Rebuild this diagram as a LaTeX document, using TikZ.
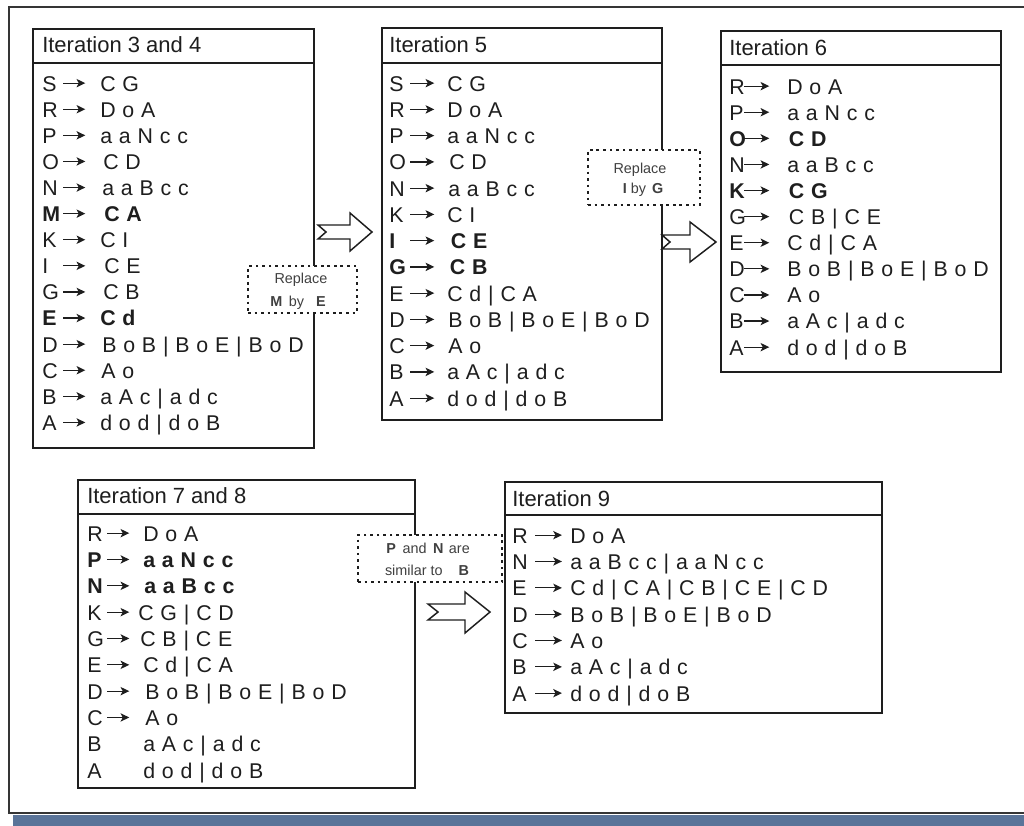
\documentclass[tikz,border=0pt]{standalone}
\usepackage{fontspec}
\setmainfont{Liberation Sans}
\newfontfamily\rowfont[WordSpace=1.15]{Liberation Sans}
\usetikzlibrary{fit,arrows.meta}
\definecolor{bandblue}{RGB}{90,116,153}
\definecolor{ink}{RGB}{30,30,30}
\def\LHSw{15.75pt}
\def\ARw{27.75pt}
\newsavebox\arrBa
\newsavebox\arrBb
\newsavebox\arrBc
\newsavebox\arrBd
\newcommand\mkarrow[2]{\sbox#1{\begin{pgfpicture}%
  \pgfpathrectangle{\pgfpointorigin}{\pgfpoint{#2}{1pt}}%
  \pgfusepath{use as bounding box}%
  \pgfsetbaseline{0pt}%
  \pgfsetlinewidth{0.95pt}%
  \pgfsetstrokecolor{ink}\pgfsetfillcolor{ink}%
  \pgfsetarrowsend{Stealth[length=6.5pt,width=6.2pt,inset=1.6pt]}%
  \pgfpathmoveto{\pgfpoint{0pt}{5.9pt}}%
  \pgfpathlineto{\pgfpoint{#2}{5.9pt}}%
  \pgfusepath{stroke}%
  \end{pgfpicture}}}
\def\curarr{\usebox\arrBa}
\newcommand\prow[3][0pt]{\makebox[\LHSw][l]{#2}\makebox[\ARw][l]{\curarr}\hspace*{#1}#3}
\newcommand\pnoarrow[2]{\makebox[\LHSw][l]{#1}\makebox[\ARw][l]{}#2}
\tikzset{
  gbox/.style={draw=ink, line width=1.4pt, fill=white, inner sep=0pt},
  divider/.style={draw=ink, line width=1.4pt},
  ttl/.style={anchor=base west, inner sep=0pt, text=ink, font=\fontsize{16.5}{19}\selectfont},
  prod/.style={anchor=base west, inner sep=0pt, text=ink, font=\rowfont\fontsize{16}{19}\selectfont},
  notebox/.style={draw=ink, line width=2pt, dash pattern=on 2pt off 2.9pt, fill=white, inner sep=0pt},
  notetxt/.style={anchor=base, inner sep=0pt, text=ink!85, font=\fontsize{10.8}{13}\selectfont},
  hollow/.style={draw=ink, line width=1.1pt, fill=white, line join=miter},
}
\begin{document}
\mkarrow{\arrBa}{16.5pt}%
\mkarrow{\arrBb}{18pt}%
\mkarrow{\arrBc}{18.75pt}%
\mkarrow{\arrBd}{20pt}%
\begin{tikzpicture}[x=0.75pt,y=-0.75pt]
\useasboundingbox (0,0) rectangle (1024,825);
\clip (0,0) rectangle (1024,825);
\fill[white] (0,0) rectangle (1024,825);
% outer frame and band
\fill[bandblue] (13,815) rectangle (1040,830);
\draw[line width=1.5pt, draw=ink!90] (9,7) rectangle (1040,813);

% ---------- Box 1 ----------
\node[gbox, fit={(33,29) (314,448)}] (b1) {};
\draw[divider] (33,63) -- (314,63);
\node[ttl] (b1t) at (42,52) {Iteration 3 and 4};
\def\LHSw{15.75pt}\def\ARw{27.75pt}\def\curarr{\usebox\arrBa}
\node[prod] (b1r1) at (42,91) {\prow{S}{C G}};
\node[prod] (b1r2) at (42,117.1) {\prow{R}{D o A}};
\node[prod] (b1r3) at (42,143.2) {\prow{P}{a a N c c}};
\node[prod] (b1r4) at (42,169.3) {\prow[2.25pt]{O}{C D}};
\node[prod] (b1r5) at (42,195.4) {\prow[1.5pt]{N}{a a B c c}};
\node[prod] (b1r6) at (42,221.5) {\prow[3pt]{\bfseries M}{\bfseries C A}};
\node[prod] (b1r7) at (42,247.6) {\prow{K}{C I}};
\node[prod] (b1r8) at (42,273.7) {\prow[3pt]{I}{C E}};
\node[prod] (b1r9) at (42,299.8) {\prow[2.25pt]{G}{C B}};
\node[prod] (b1r10) at (42,325.9) {\prow{\bfseries E}{\bfseries C d}};
\node[prod] (b1r11) at (42,352) {\prow[1.5pt]{D}{B o B | B o E | B o D}};
\node[prod] (b1r12) at (42,378.1) {\prow[0.75pt]{C}{A o}};
\node[prod] (b1r13) at (42,404.2) {\prow{B}{a A c | a d c}};
\node[prod] (b1r14) at (42,430.3) {\prow{A}{d o d | d o B}};

% ---------- Box 2 ----------
\node[gbox, fit={(382,28) (662,420)}] (b2) {};
\draw[divider] (382,63) -- (662,63);
\node[ttl] (b2t) at (389,52) {Iteration 5};
\def\curarr{\usebox\arrBb}
\node[prod] (b2r1) at (389,91) {\prow{S}{C G}};
\node[prod] (b2r2) at (389,117.25) {\prow{R}{D o A}};
\node[prod] (b2r3) at (389,143.5) {\prow{P}{a a N c c}};
\node[prod] (b2r4) at (389,169.75) {\prow[1.5pt]{O}{C D}};
\node[prod] (b2r5) at (389,196) {\prow[0.75pt]{N}{a a B c c}};
\node[prod] (b2r6) at (389,222.25) {\prow{K}{C I}};
\node[prod] (b2r7) at (389,248.5) {\prow[2.75pt]{\bfseries I}{\bfseries C E}};
\node[prod] (b2r8) at (389,274.75) {\prow[2pt]{\bfseries G}{\bfseries C B}};
\node[prod] (b2r9) at (389,301) {\prow{E}{C d | C A}};
\node[prod] (b2r10) at (389,327.25) {\prow[0.75pt]{D}{B o B | B o E | B o D}};
\node[prod] (b2r11) at (389,353.5) {\prow[0.75pt]{C}{A o}};
\node[prod] (b2r12) at (389,379.75) {\prow{B}{a A c | a d c}};
\node[prod] (b2r13) at (389,406) {\prow{A}{d o d | d o B}};

% ---------- Box 3 ----------
\node[gbox, fit={(721,31) (1001,372)}] (b3) {};
\draw[divider] (721,65) -- (1001,65);
\node[ttl] (b3t) at (729,55) {Iteration 6};
\def\LHSw{11.25pt}\def\ARw{32.25pt}\def\curarr{\usebox\arrBc}
\node[prod] (b3r1) at (729,94) {\prow{R}{D o A}};
\node[prod] (b3r2) at (729,120.1) {\prow{P}{a a N c c}};
\node[prod] (b3r3) at (729,146.2) {\prow[1.25pt]{\bfseries O}{\bfseries C D}};
\node[prod] (b3r4) at (729,172.3) {\prow{N}{a a B c c}};
\node[prod] (b3r5) at (729,198.4) {\prow[1.25pt]{\bfseries K}{\bfseries C G}};
\node[prod] (b3r6) at (729,224.5) {\prow[1.25pt]{G}{C B | C E}};
\node[prod] (b3r7) at (729,250.6) {\prow{E}{C d | C A}};
\node[prod] (b3r8) at (729,276.7) {\prow{D}{B o B | B o E | B o D}};
\node[prod] (b3r9) at (729,302.8) {\prow{C}{A o}};
\node[prod] (b3r10) at (729,328.9) {\prow{B}{a A c | a d c}};
\node[prod] (b3r11) at (729,355) {\prow{A}{d o d | d o B}};

% ---------- Box 4 ----------
\node[gbox, fit={(78,480) (415,788)}] (b4) {};
\draw[divider] (78,514) -- (415,514);
\node[ttl] (b4t) at (87,503) {Iteration 7 and 8};
\def\LHSw{15pt}\def\ARw{27pt}\def\curarr{\usebox\arrBa}
\node[prod] (b4r1) at (87,541) {\prow{R}{D o A}};
\node[prod] (b4r2) at (87,567.3) {\prow{\bfseries P}{\bfseries a a N c c}};
\node[prod] (b4r3) at (87,593.7) {\prow[0.75pt]{\bfseries N}{\bfseries a a B c c}};
\node[prod] (b4r4) at (87,620) {\prow[-3.75pt]{K}{C G | C D}};
\node[prod] (b4r5) at (87,646.3) {\prow[-2.25pt]{G}{C B | C E}};
\node[prod] (b4r6) at (87,672.7) {\prow{E}{C d | C A}};
\node[prod] (b4r7) at (87,699) {\prow[1.5pt]{D}{B o B | B o E | B o D}};
\node[prod] (b4r8) at (87,725.3) {\prow[1.5pt]{C}{A o}};
\node[prod] (b4r9) at (87,751.7) {\pnoarrow{B}{a A c | a d c}};
\node[prod] (b4r10) at (87,778) {\pnoarrow{A}{d o d | d o B}};

% ---------- Box 5 ----------
\node[gbox, fit={(505,482) (882,713)}] (b5) {};
\draw[divider] (505,515) -- (882,515);
\node[ttl] (b5t) at (512,506) {Iteration 9};
\def\LHSw{17.25pt}\def\ARw{26.25pt}\def\curarr{\usebox\arrBd}
\node[prod] (b5r1) at (512,543) {\prow{R}{D o A}};
\node[prod] (b5r2) at (512,569.3) {\prow{N}{a a B c c | a a N c c}};
\node[prod] (b5r3) at (512,595.7) {\prow{E}{C d | C A | C B | C E | C D}};
\node[prod] (b5r4) at (512,622) {\prow{D}{B o B | B o E | B o D}};
\node[prod] (b5r5) at (512,648.3) {\prow{C}{A o}};
\node[prod] (b5r6) at (512,674.7) {\prow{B}{a A c | a d c}};
\node[prod] (b5r7) at (512,701) {\prow{A}{d o d | d o B}};

% ---------- notes ----------
\node[notebox, fit={(248,266) (357,313)}] (n1) {};
\node[notetxt] (n1a) at (301,283) {Replace};
\node[notetxt] (n1b) at (298,306) {\textbf{M}\hspace{5pt}by\hspace{9pt}\textbf{E}};

\node[notebox, fit={(588,150) (700,205)}] (n2) {};
\node[notetxt] (n2a) at (640,173) {Replace};
\node[notetxt] (n2b) at (643,193) {\textbf{I}\hspace{3pt}by\hspace{4.5pt}\textbf{G}};

\node[notebox, fit={(358,535) (502,582)}] (n3) {};
\node[notetxt] (n3a) at (428,553) {\textbf{P}\hspace{5pt}and\hspace{5pt}\textbf{N}\hspace{4pt}are};
\node[notetxt] (n3b) at (427,575) {similar to\hspace{12pt}\textbf{B}};

% ---------- hollow arrows ----------
\draw[hollow] (318,225) -- (350,225) -- (350,213) -- (372,232) -- (350,251) -- (350,239) -- (318,239) -- (326,232) -- cycle;
\draw[hollow] (662,235) -- (690,235) -- (690,222) -- (716,242) -- (690,262) -- (690,249) -- (662,249) -- (670,242) -- cycle;
\draw[hollow] (428,604) -- (465,604) -- (465,592) -- (490,612) -- (465,633) -- (465,620) -- (428,620) -- (438,612) -- cycle;
\end{tikzpicture}
\end{document}
